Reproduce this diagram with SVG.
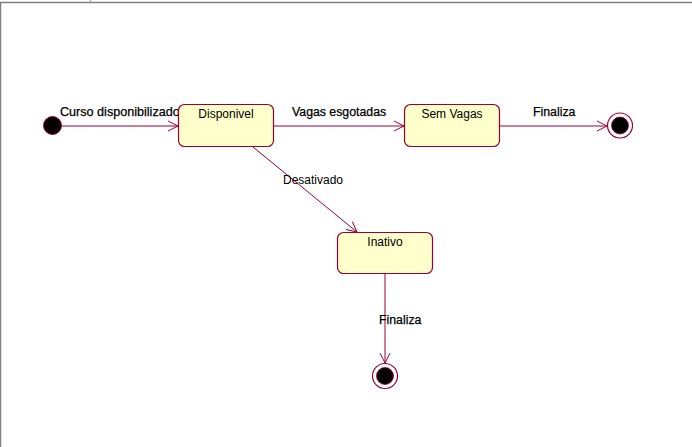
<svg xmlns="http://www.w3.org/2000/svg" width="692" height="447" viewBox="0 0 692 447">
<style>
.state{fill:#FFFFCC;stroke:#990033;stroke-width:1.2}
.conn{stroke:#990033;stroke-width:1;fill:none}
.ntext{font-family:"Liberation Sans",Arial,sans-serif;font-size:12px;fill:#000;text-anchor:middle}
.ltext{font-family:"Liberation Sans",Arial,sans-serif;font-size:12.3px;fill:#000;stroke:#000;stroke-width:0.25}
.rtext{font-family:"Liberation Sans",Arial,sans-serif;font-size:12px;fill:#000}
</style>
<defs>
<marker id="arr" viewBox="0 0 12 12" refX="11" refY="6" markerWidth="12" markerHeight="12" markerUnits="userSpaceOnUse" orient="auto">
<path d="M1,1 L11,6 L1,11" fill="none" stroke="#990033" stroke-width="1"/>
</marker>
</defs>
<rect x="0" y="0" width="692" height="447" fill="#fff"/>
<path d="M0.5,447 V2.5 H692" fill="none" stroke="#808080" stroke-width="1.5"/>
<line x1="90.5" y1="0" x2="90.5" y2="2" stroke="#a0a0a0" stroke-width="1"/>
<g id="connectors">
<line class="conn" x1="61" y1="126" x2="178" y2="126" marker-end="url(#arr)"/>
<line class="conn" x1="274" y1="126" x2="404" y2="126" marker-end="url(#arr)"/>
<line class="conn" x1="500" y1="126" x2="607" y2="126" marker-end="url(#arr)"/>
<line class="conn" x1="253" y1="147" x2="357" y2="232" marker-end="url(#arr)"/>
<line class="conn" x1="385" y1="274" x2="385" y2="363" marker-end="url(#arr)"/>
<text class="ltext" x="60" y="116" style="font-size:12.6px">Curso disponibilizado</text>
<text class="ltext" x="292" y="116">Vagas esgotadas</text>
<text class="ltext" x="533" y="116">Finaliza</text>
<text class="rtext" x="283" y="184">Desativado</text>
<text class="ltext" x="379" y="324">Finaliza</text>
</g>
<g id="initial">
<circle cx="52.5" cy="125.5" r="9" fill="#000" stroke="#990033" stroke-width="1"/>
</g>
<g id="disponivel">
<rect class="state" x="178.5" y="104.5" width="95" height="42" rx="6"/>
<text class="ntext" x="226" y="118">Disponivel</text>
</g>
<g id="semvagas">
<rect class="state" x="404.5" y="104.5" width="95" height="42" rx="6"/>
<text class="ntext" x="452" y="118">Sem Vagas</text>
</g>
<g id="inativo">
<rect class="state" x="337.5" y="232.5" width="95" height="41" rx="6"/>
<text class="ntext" x="385" y="246">Inativo</text>
</g>
<g id="final1">
<circle cx="620" cy="125.5" r="12.5" fill="#fff" stroke="#990033" stroke-width="1.2"/>
<circle cx="620" cy="125.5" r="8.5" fill="#000" stroke="#990033" stroke-width="0.8"/>
</g>
<g id="final2">
<circle cx="385" cy="376" r="12.5" fill="#fff" stroke="#990033" stroke-width="1.2"/>
<circle cx="385" cy="376" r="8.5" fill="#000" stroke="#990033" stroke-width="0.8"/>
</g>
</svg>
